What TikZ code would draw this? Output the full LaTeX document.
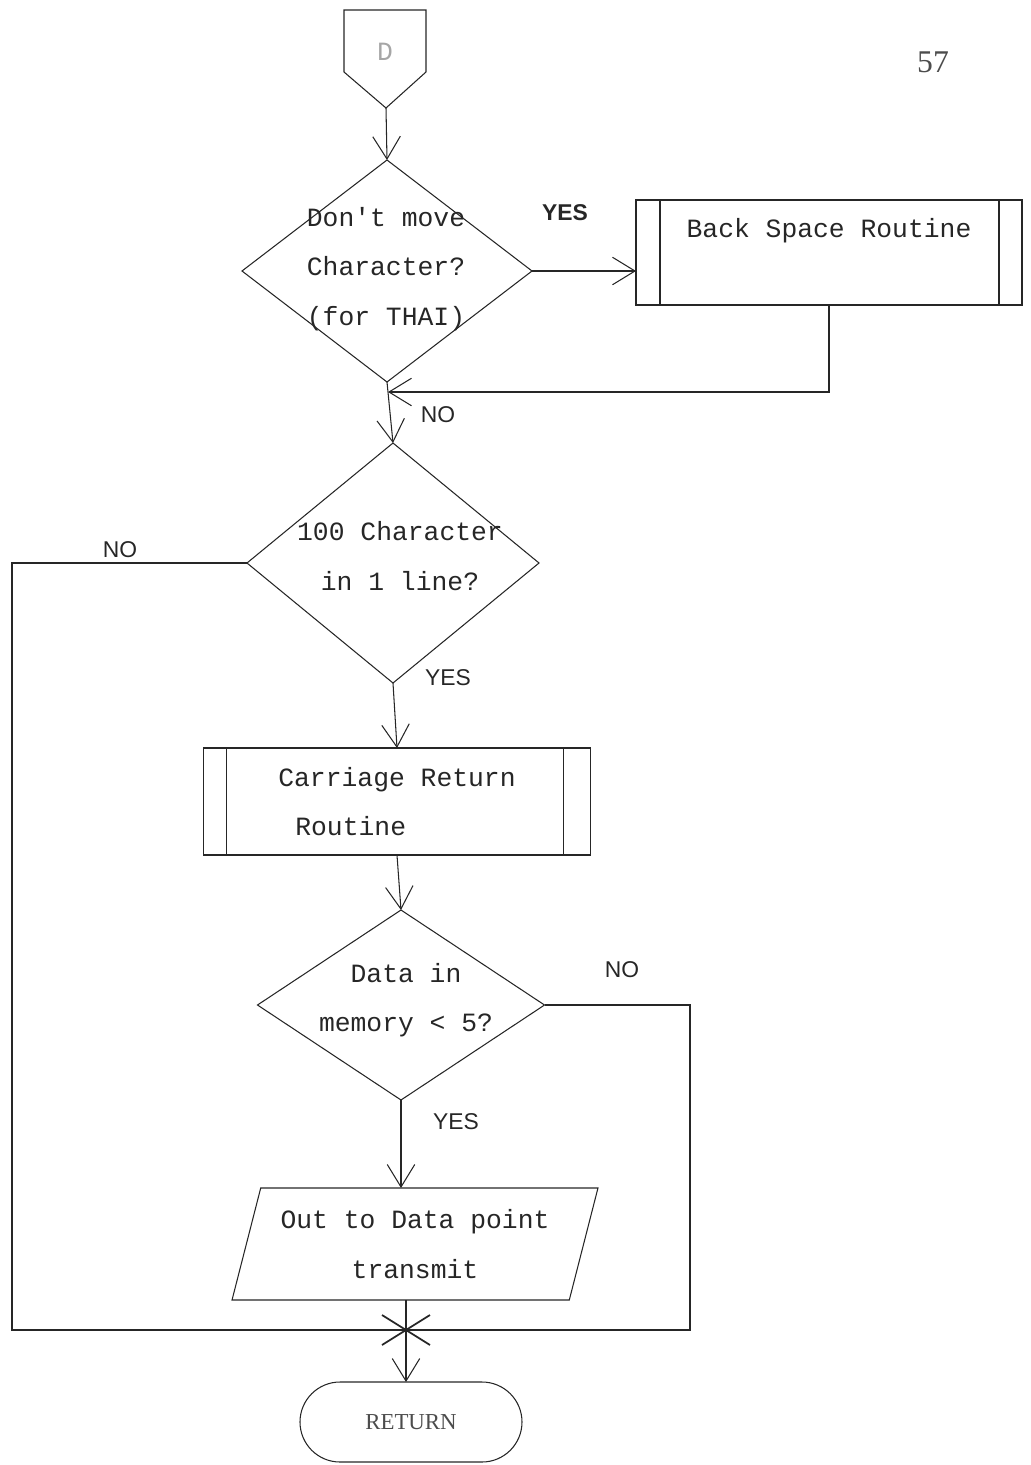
\documentclass[tikz,border=0pt]{standalone}
\usepackage{fontspec}
\setmainfont{Liberation Mono}
\newfontfamily\lblfont{Liberation Sans}
\newfontfamily\serfont{Liberation Serif}
\usetikzlibrary{arrows.meta, shapes.geometric}

\begin{document}
\begin{tikzpicture}[x=0.2mm, y=-0.2mm, line width=0.6pt, draw=black!85,
  every node/.style={font=\fontsize{15}{28}\selectfont, text=black!85},
  arr/.style={-{Straight Barb[length=4.5mm,width=5.5mm]}},
  decis/.style={diamond, draw, outer sep=0pt, inner sep=0pt},
  proc/.style={draw, outer sep=0pt, align=center},
  io/.style={trapezium, trapezium left angle=72, trapezium right angle=108,
    trapezium stretches=true, draw, outer sep=0pt, align=center},
  term/.style={draw, rounded corners=8mm, minimum width=44.4mm,
    minimum height=16mm, outer sep=0pt},
  lbl/.style={font=\lblfont\fontsize{13}{15}\selectfont}]
  \useasboundingbox (0,0) rectangle (1030,1465);

  % page number
  \node[font=\serfont\fontsize{18}{20}\selectfont, text=black!70] (pg) at (933,62) {57};

  % off-page connector
  \draw (344,10) -- (426,10) -- (426,72) -- (386,108) -- (344,72) -- cycle;
  \node[text=black!35] (D) at (385,52) {D};
  \coordinate (Dtip) at (386,108);

  % blocks
  \node[decis, minimum width=58mm, minimum height=44.4mm] (d1) at (387,271) {};
  \node[align=center] (d1t) at (386,269) {Don\textquotesingle t move\\Character?\\(for THAI)};
  \node[proc, minimum width=77.2mm, minimum height=21mm] (bs) at (829,252.5)
    {Back Space Routine\\\mbox{}};
  \draw ([xshift=4.8mm]bs.north west) -- ([xshift=4.8mm]bs.south west);
  \draw ([xshift=-4.6mm]bs.north east) -- ([xshift=-4.6mm]bs.south east);

  \node[decis, minimum width=58.4mm, minimum height=48mm] (d2) at (393,563) {};
  \node[align=center] (d2t) at (400,556) {100 Character\\in 1 line?};

  \node[proc, minimum width=77.4mm, minimum height=21.4mm, align=left] (cr) at (397,801.5)
    {Carriage Return\\\hspace*{3.4mm}Routine};
  \draw ([xshift=4.6mm]cr.north west) -- ([xshift=4.6mm]cr.south west);
  \draw ([xshift=-5.4mm]cr.north east) -- ([xshift=-5.4mm]cr.south east);

  \node[decis, minimum width=57.4mm, minimum height=38mm] (d3) at (401,1005) {};
  \node[align=center] (d3t) at (406,1000) {Data in\\memory < 5?};

  \node[io, minimum width=73.2mm, minimum height=22.4mm] (out) at (415,1244)
    {Out to Data point\\transmit};

  \node[term, font=\serfont\fontsize{13}{15}\selectfont, text=black!70] (ret) at (411,1422) {RETURN};

  \coordinate (m1) at (388,392);
  \coordinate (jn) at (406,1330);
  \coordinate (lft) at (12,1330);
  \coordinate (rgt) at (690,1330);

  % connectors
  \draw[arr] (Dtip) -- (d1.north);
  \draw[arr] (d1.east) -- (d1.east -| bs.west);
  \node[lbl, font=\lblfont\bfseries\fontsize{13}{15}\selectfont] (y1) at (565,213) {YES};
  \draw[arr] (bs.south) |- (m1);
  \node[lbl] (n1) at (438,415) {NO};
  \draw[arr] (d1.south) -- (d2.north);

  \draw (d2.west) -| (lft) -- (jn);
  \node[lbl] (n2) at (120,550) {NO};
  \draw[arr] (d2.south) -- (cr.north);
  \node[lbl] (y2) at (448,678) {YES};
  \draw[arr] (cr.south) -- (d3.north);

  \draw (d3.east) -| (rgt) -- (jn);
  \node[lbl] (n3) at (622,970) {NO};
  \draw[arr] (d3.south) -- (d3.south |- out.north);
  \node[lbl] (y3) at (456,1122) {YES};

  \draw (jn |- out.south) -- (jn);
  \draw[line width=1pt] (jn) +(-24,-15) -- +(24,15) (jn) +(-24,15) -- +(24,-15);
  \draw[arr] (jn) -- (jn |- ret.north);
\end{tikzpicture}
\end{document}
